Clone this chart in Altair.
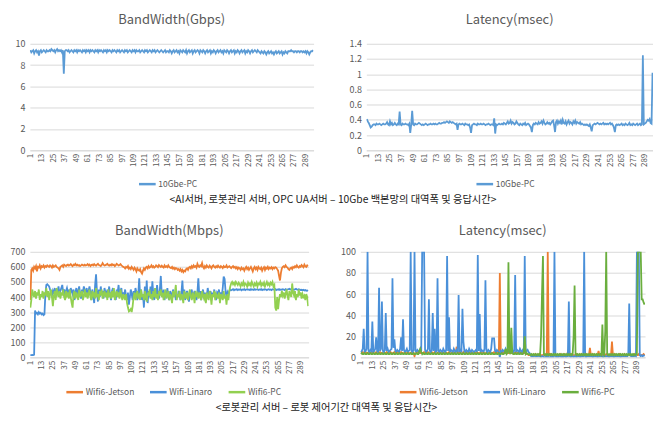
import altair as alt
import pandas as pd

N = 297
tick_vals = list(range(1, 290, 12))

# ---------- Top-left: 10Gbe bandwidth (Gbps) ----------
bw_10gbe_pc = [
    9.4, 9.2, 9.3, 9.4, 9.1, 9.3, 9.4, 9.2, 9.3, 8.9, 9.3, 9.4, 9.2, 9.3, 9.4, 9.3, 9.2, 9.4, 9.3, 9.3,
    9.4, 9.3, 9.5, 9.4, 9.3, 9.4, 9.2, 9.4, 9.5, 9.3, 9.4, 9.3, 9.4, 9.2, 9.4, 7.2, 9.3, 9.4, 9.4, 9.3,
    9.4, 9.2, 9.3, 9.4, 9.3, 9.2, 9.4, 9.3, 9.4, 9.2, 9.4, 9.3, 9.4, 9.3, 9.2, 9.4, 9.3, 9.4, 9.2, 9.4,
    9.3, 9.4, 9.2, 9.4, 9.3, 9.4, 9.3, 9.2, 9.4, 9.3, 9.4, 9.2, 9.4, 9.3, 9.4, 9.3, 9.2, 9.4, 9.3, 9.4,
    9.2, 9.4, 9.3, 9.4, 9.3, 9.2, 9.4, 9.3, 9.4, 9.3, 9.2, 9.4, 9.3, 9.4, 9.2, 9.3, 9.4, 9.3, 9.2, 9.4,
    9.3, 9.4, 9.2, 9.3, 9.4, 9.3, 9.2, 9.4, 9.3, 9.4, 9.2, 9.4, 9.3, 9.3, 9.4, 9.2, 9.3, 9.4, 9.3, 9.2,
    9.4, 9.3, 9.4, 9.2, 9.3, 9.4, 9.3, 9.2, 9.4, 9.3, 9.4, 9.2, 9.3, 9.4, 9.3, 9.2, 9.3, 9.4, 9.3, 9.2,
    9.3, 9.4, 9.2, 9.3, 9.3, 9.2, 9.4, 9.3, 9.1, 9.3, 9.4, 9.2, 9.3, 9.4, 9.2, 9.3, 9.1, 9.4, 9.3, 9.2,
    9.4, 9.3, 9.2, 9.4, 9.1, 9.3, 9.4, 9.2, 9.3, 9.4, 9.1, 9.3, 9.4, 9.2, 9.3, 9.4, 9.3, 9.1, 9.4, 9.3,
    9.2, 9.4, 9.3, 9.1, 9.3, 9.4, 9.2, 9.3, 9.4, 9.1, 9.3, 9.2, 9.4, 9.3, 9.1, 9.3, 9.4, 9.2, 9.3, 9.4,
    9.2, 9.3, 9.1, 9.4, 9.3, 9.2, 9.4, 9.3, 9.1, 9.3, 9.4, 9.2, 9.3, 9.4, 9.1, 9.3, 9.2, 9.4, 9.3, 9.1,
    9.3, 9.4, 9.2, 9.3, 9.4, 9.1, 9.3, 9.2, 9.4, 9.3, 9.1, 9.3, 9.4, 9.2, 9.3, 9.4, 9.3, 9.2, 9.4, 9.3,
    9.2, 9.1, 9.3, 9.2, 9.1, 9.3, 9.2, 9.0, 9.2, 9.3, 9.1, 9.2, 9.3, 9.1, 9.2, 9.0, 9.2, 9.3, 9.1, 9.2,
    9.3, 9.1, 9.2, 9.3, 9.0, 9.2, 9.1, 9.3, 9.2, 9.1, 9.3, 9.3, 9.3, 9.4, 9.3, 9.3, 9.2, 9.3, 9.3, 9.2,
    9.3, 9.3, 9.2, 9.3, 9.3, 9.2, 9.3, 9.2, 9.3, 9.1, 9.3, 9.2, 9.0, 9.2, 9.3, 9.3, 9.4,
]

# ---------- Top-right: 10Gbe latency (msec) ----------
lat_10gbe_pc = [
    0.41, 0.38, 0.36, 0.33, 0.30, 0.31, 0.33, 0.34, 0.34, 0.33, 0.35, 0.34, 0.34, 0.35, 0.34, 0.33, 0.34, 0.35, 0.34, 0.34,
    0.35, 0.37, 0.34, 0.33, 0.38, 0.34, 0.36, 0.33, 0.34, 0.36, 0.34, 0.33, 0.35, 0.34, 0.51, 0.34, 0.33, 0.35, 0.34, 0.34,
    0.35, 0.34, 0.34, 0.33, 0.35, 0.23, 0.34, 0.52, 0.34, 0.33, 0.35, 0.34, 0.34, 0.35, 0.36, 0.35, 0.34, 0.33, 0.34, 0.33,
    0.34, 0.35, 0.34, 0.33, 0.34, 0.34, 0.35, 0.34, 0.34, 0.35, 0.34, 0.35, 0.34, 0.34, 0.35, 0.36, 0.35, 0.35, 0.36, 0.36,
    0.37, 0.36, 0.37, 0.38, 0.37, 0.36, 0.38, 0.37, 0.36, 0.37, 0.36, 0.35, 0.34, 0.35, 0.27, 0.34, 0.35, 0.34, 0.34, 0.35,
    0.34, 0.33, 0.35, 0.34, 0.34, 0.33, 0.34, 0.30, 0.23, 0.33, 0.34, 0.35, 0.34, 0.34, 0.33, 0.35, 0.34, 0.34, 0.35, 0.34,
    0.34, 0.35, 0.34, 0.33, 0.34, 0.34, 0.35, 0.34, 0.33, 0.34, 0.34, 0.33, 0.42, 0.22, 0.34, 0.33, 0.34, 0.35, 0.34, 0.34,
    0.35, 0.34, 0.36, 0.35, 0.34, 0.36, 0.38, 0.35, 0.36, 0.39, 0.35, 0.37, 0.36, 0.34, 0.35, 0.38, 0.36, 0.34, 0.33, 0.35,
    0.34, 0.33, 0.35, 0.34, 0.36, 0.33, 0.34, 0.35, 0.34, 0.32, 0.30, 0.24, 0.33, 0.35, 0.34, 0.36, 0.35, 0.34, 0.37, 0.35,
    0.36, 0.38, 0.35, 0.39, 0.36, 0.34, 0.35, 0.37, 0.35, 0.36, 0.34, 0.36, 0.38, 0.39, 0.33, 0.24, 0.37, 0.39, 0.35, 0.38,
    0.36, 0.39, 0.34, 0.40, 0.36, 0.35, 0.38, 0.34, 0.37, 0.39, 0.35, 0.37, 0.36, 0.34, 0.38, 0.36, 0.39, 0.35, 0.37, 0.36,
    0.35, 0.37, 0.34, 0.35, 0.34, 0.33, 0.34, 0.33, 0.34, 0.33, 0.32, 0.34, 0.30, 0.25, 0.33, 0.34, 0.35, 0.34, 0.35, 0.36,
    0.35, 0.34, 0.35, 0.34, 0.35, 0.36, 0.34, 0.35, 0.34, 0.35, 0.34, 0.35, 0.36, 0.34, 0.35, 0.33, 0.30, 0.24, 0.33, 0.34,
    0.33, 0.34, 0.33, 0.34, 0.35, 0.33, 0.34, 0.33, 0.35, 0.34, 0.33, 0.34, 0.36, 0.33, 0.34, 0.33, 0.35, 0.34, 0.33, 0.34,
    0.35, 0.33, 0.34, 0.35, 0.33, 0.34, 1.25, 0.34, 0.35, 0.36, 0.38, 0.40, 0.39, 0.41, 0.36, 0.35, 1.02,
]

# ---------- Bottom-left: WiFi bandwidth (Mbps) ----------
bw_jetson = [
    380, 580, 590, 575, 600, 590, 605, 570, 600, 595, 610, 590, 605, 600, 610, 595, 605, 600, 610, 605,
    600, 610, 605, 595, 610, 600, 605, 610, 600, 595, 590, 580, 600, 605, 610, 600, 615, 610, 605, 612,
    615, 608, 612, 618, 610, 605, 615, 612, 620, 610, 615, 608, 612, 605, 610, 615, 612, 608, 615, 610,
    612, 618, 610, 615, 605, 612, 615, 610, 618, 612, 608, 615, 620, 612, 610, 605, 612, 625, 615, 610,
    612, 615, 620, 612, 608, 615, 610, 618, 612, 615, 605, 612, 620, 615, 610, 612, 618, 610, 605, 600,
    598, 590, 600, 595, 605, 588, 595, 585, 600, 590, 580, 595, 585, 570, 590, 580, 575, 585, 565, 555,
    575, 590, 580, 595, 600, 590, 605, 595, 600, 610, 598, 605, 595, 600, 610, 605, 598, 612, 605, 600,
    608, 600, 595, 610, 600, 605, 598, 610, 600, 595, 592, 600, 588, 595, 585, 592, 590, 580, 585, 575,
    585, 570, 580, 565, 575, 570, 585, 590, 580, 595, 600, 590, 605, 595, 610, 600, 605, 595, 620, 605,
    600, 610, 605, 625, 600, 590, 605, 595, 610, 600, 595, 608, 600, 590, 605, 610, 600, 595, 605, 598,
    608, 600, 595, 605, 600, 592, 605, 598, 600, 610, 595, 600, 605, 598, 592, 600, 605, 595, 600, 590,
    598, 585, 595, 590, 580, 595, 585, 590, 575, 590, 600, 585, 595, 580, 590, 600, 585, 570, 590, 600,
    585, 595, 580, 600, 590, 585, 595, 575, 590, 598, 580, 595, 588, 600, 585, 595, 590, 598, 585, 595,
    590, 598, 595, 585, 575, 540, 510, 560, 590, 600, 605, 598, 610, 600, 595, 585, 580, 590, 595, 585,
    600, 595, 605, 598, 610, 600, 595, 605, 600, 612, 605, 598, 615, 605, 600, 610, 605,
]
bw_linaro = [
    15, 15, 16, 15, 18, 310, 290, 295, 285, 300, 290, 295, 285, 290, 280, 285, 420, 480, 485, 478,
    470, 450, 430, 410, 440, 420, 460, 400, 450, 430, 470, 420, 440, 460, 480, 430, 450, 410, 440, 460,
    430, 450, 400, 460, 440, 420, 450, 380, 430, 460, 410, 440, 470, 420, 390, 450, 430, 470, 440, 420,
    460, 400, 440, 470, 430, 380, 450, 410, 360, 480, 550, 430, 370, 450, 400, 470, 420, 440, 390, 460,
    430, 400, 450, 420, 470, 410, 380, 440, 460, 400, 420, 380, 450, 430, 480, 410, 440, 460, 390, 430,
    410, 450, 400, 380, 430, 350, 400, 450, 420, 380, 440, 400, 460, 430, 380, 420, 525, 400, 450, 380,
    420, 330, 470, 380, 510, 360, 440, 400, 470, 390, 505, 420, 380, 460, 400, 480, 420, 390, 450, 540,
    420, 400, 450, 380, 430, 410, 460, 400, 380, 440, 420, 390, 450, 410, 430, 380, 420, 400, 440, 410,
    380, 430, 510, 400, 450, 380, 420, 440, 400, 370, 430, 410, 450, 390, 420, 440, 400, 380, 430, 525,
    410, 440, 380, 420, 450, 400, 430, 370, 410, 460, 420, 400, 440, 380, 430, 410, 450, 400, 380, 430,
    420, 450, 390, 430, 410, 460, 535, 520, 440, 400, 430, 410, 440, 450, 445, 448, 452, 445, 450, 448,
    452, 446, 450, 448, 452, 445, 450, 448, 452, 446, 450, 452, 448, 450, 446, 452, 448, 450, 447, 452,
    448, 450, 452, 447, 450, 448, 452, 446, 450, 448, 452, 450, 446, 450, 452, 448, 450, 446, 452, 450,
    448, 452, 446, 450, 448, 452, 447, 450, 448, 452, 450, 446, 452, 448, 450, 452, 455, 450, 452, 455,
    450, 448, 452, 455, 450, 448, 452, 450, 446, 448, 445, 448, 444, 446, 442, 444, 440,
]
bw_pc = [
    330, 380, 450, 420, 400, 440, 390, 430, 410, 450, 380, 420, 400, 440, 390, 430, 410, 460, 400, 440,
    380, 420, 450, 400, 340, 410, 440, 380, 460, 420, 400, 440, 390, 430, 410, 450, 400, 380, 440, 410,
    430, 390, 450, 400, 360, 330, 420, 440, 390, 430, 410, 380, 450, 400, 420, 440, 380, 410, 450, 400,
    430, 390, 420, 450, 400, 380, 440, 410, 430, 390, 460, 400, 420, 380, 440, 410, 450, 390, 420, 440,
    400, 430, 380, 450, 410, 420, 390, 440, 400, 460, 380, 420, 440, 400, 430, 390, 450, 410, 380, 420,
    400, 380, 420, 360, 330, 305, 310, 320, 300, 340, 400, 430, 380, 420, 440, 390, 410, 380, 450, 400,
    420, 380, 440, 400, 370, 430, 410, 450, 390, 420, 380, 440, 400, 460, 390, 420, 380, 440, 410, 450,
    400, 430, 380, 420, 450, 390, 410, 440, 380, 420, 400, 360, 440, 400, 430, 480, 380, 420, 400, 440,
    380, 420, 400, 360, 440, 410, 390, 430, 380, 420, 450, 400, 380, 430, 410, 360, 440, 400, 420, 390,
    430, 400, 380, 440, 410, 390, 420, 360, 430, 400, 380, 440, 410, 350, 420, 400, 440, 380, 420, 410,
    390, 430, 360, 420, 400, 380, 440, 390, 410, 350, 420, 380, 440, 470, 490, 500, 485, 495, 480, 500,
    490, 480, 495, 485, 470, 490, 480, 500, 475, 490, 485, 470, 495, 480, 490, 475, 500, 485, 470, 490,
    480, 495, 470, 490, 485, 500, 475, 490, 480, 495, 470, 485, 500, 480, 490, 475, 495, 485, 500, 470,
    480, 330, 310, 400, 320, 380, 420, 400, 440, 410, 430, 390, 420, 450, 410, 380, 440, 420, 400, 490,
    430, 410, 440, 380, 420, 400, 450, 410, 430, 390, 420, 400, 410, 380, 420, 400, 340,
]

# ---------- Bottom-right: WiFi latency (msec) ----------
lat_jetson = [
    4, 4, 5, 4, 4, 5, 4, 4, 4, 5, 4, 4, 5, 4, 4, 4, 5, 4, 4, 4,
    5, 4, 4, 4, 5, 4, 4, 5, 4, 4, 4, 5, 4, 4, 4, 5, 4, 4, 5, 4,
    4, 4, 5, 4, 4, 4, 5, 4, 4, 5, 4, 4, 4, 5, 4, 4, 1, 4, 4, 5,
    4, 4, 4, 5, 4, 4, 5, 4, 4, 4, 5, 4, 4, 4, 5, 4, 4, 5, 4, 4,
    4, 5, 4, 4, 4, 5, 4, 4, 5, 4, 4, 4, 5, 4, 4, 4, 5, 4, 4, 5,
    10, 4, 4, 5, 4, 4, 4, 5, 4, 4, 5, 4, 4, 4, 5, 4, 4, 4, 5, 4,
    4, 5, 4, 4, 4, 5, 4, 4, 5, 4, 4, 4, 5, 4, 4, 5, 4, 4, 4, 5,
    4, 4, 5, 4, 4, 80, 4, 4, 5, 4, 4, 4, 5, 4, 4, 5, 4, 4, 4, 5,
    4, 4, 5, 4, 4, 4, 5, 4, 4, 5, 4, 4, 4, 3, 3, 2, 2, 2, 2, 2,
    2, 2, 3, 2, 2, 2, 3, 2, 2, 2, 2, 3, 2, 2, 2, 100, 2, 2, 3, 2,
    2, 2, 2, 3, 2, 2, 2, 2, 3, 2, 2, 2, 3, 2, 2, 2, 5, 2, 2, 2,
    3, 2, 2, 2, 2, 3, 2, 2, 2, 2, 3, 2, 2, 2, 2, 3, 2, 2, 2, 9,
    2, 2, 3, 2, 2, 2, 2, 2, 6, 2, 2, 3, 2, 2, 2, 2, 3, 2, 2, 2,
    2, 2, 15, 2, 2, 3, 2, 2, 2, 2, 3, 2, 2, 2, 2, 3, 2, 2, 2, 2,
    3, 2, 2, 2, 2, 3, 2, 2, 2, 2, 3, 2, 2, 2, 2, 3, 2,
]
lat_linaro = [
    5, 6, 8, 27, 5, 6, 8, 100, 6, 5, 7, 6, 34, 5, 6, 8, 19, 6, 5, 66,
    6, 8, 53, 6, 5, 7, 42, 6, 8, 5, 6, 7, 8, 75, 9, 17, 6, 5, 7, 6,
    5, 8, 19, 6, 36, 7, 5, 6, 8, 5, 6, 7, 100, 6, 5, 7, 100, 6, 5, 7,
    6, 5, 8, 6, 100, 100, 100, 7, 5, 6, 8, 55, 6, 5, 7, 42, 6, 27, 5, 6,
    75, 6, 5, 7, 6, 5, 8, 6, 5, 7, 96, 6, 38, 5, 7, 6, 5, 8, 6, 5,
    7, 6, 59, 5, 7, 6, 46, 15, 6, 5, 7, 6, 5, 8, 6, 5, 7, 6, 5, 6,
    7, 5, 97, 6, 41, 5, 7, 6, 5, 8, 73, 6, 5, 7, 6, 5, 8, 18, 18, 18,
    6, 5, 7, 6, 5, 0, 6, 5, 7, 6, 5, 8, 6, 5, 7, 6, 5, 6, 7, 5,
    6, 78, 5, 7, 6, 5, 8, 6, 5, 7, 6, 96, 5, 6, 7, 5, 4, 2, 1, 1,
    1, 2, 1, 1, 1, 2, 1, 1, 0, 1, 1, 0, 0, 1, 0, 1, 0, 0, 1, 0,
    1, 0, 100, 1, 0, 1, 0, 1, 1, 0, 1, 0, 1, 1, 0, 1, 1, 53, 1, 0,
    1, 1, 0, 1, 1, 0, 1, 1, 1, 0, 1, 1, 1, 100, 1, 0, 1, 1, 1, 1,
    1, 1, 0, 1, 1, 1, 1, 0, 1, 1, 1, 1, 1, 0, 1, 1, 1, 1, 1, 0,
    1, 1, 1, 1, 0, 1, 1, 1, 1, 1, 1, 0, 1, 1, 1, 1, 1, 1, 1, 2,
    51, 2, 1, 1, 1, 1, 2, 1, 100, 100, 100, 2, 1, 2, 1, 2, 1,
]
lat_pc = [
    3, 4, 3, 3, 4, 3, 3, 4, 3, 3, 4, 3, 3, 4, 3, 3, 4, 3, 3, 4,
    3, 3, 4, 3, 3, 4, 3, 3, 4, 3, 3, 4, 3, 3, 4, 3, 3, 4, 3, 3,
    4, 3, 3, 4, 3, 3, 4, 3, 3, 4, 3, 3, 4, 3, 3, 4, 3, 3, 4, 3,
    3, 6, 8, 5, 3, 4, 3, 3, 4, 3, 3, 4, 3, 3, 4, 3, 3, 4, 3, 3,
    4, 3, 3, 4, 3, 3, 4, 3, 3, 4, 3, 3, 4, 3, 3, 4, 3, 3, 4, 3,
    3, 4, 3, 3, 4, 3, 3, 4, 3, 3, 4, 3, 3, 4, 3, 3, 4, 3, 3, 4,
    3, 3, 4, 3, 3, 4, 3, 3, 4, 3, 3, 4, 3, 3, 4, 3, 3, 4, 3, 3,
    3, 4, 3, 3, 4, 3, 3, 4, 3, 3, 4, 8, 3, 4, 90, 5, 3, 28, 4, 3,
    3, 4, 3, 3, 4, 3, 3, 4, 3, 3, 5, 20, 3, 4, 3, 3, 3, 2, 3, 2,
    3, 2, 3, 2, 3, 2, 3, 2, 20, 60, 96, 3, 2, 3, 2, 3, 2, 3, 2, 3,
    2, 3, 2, 3, 2, 3, 2, 3, 2, 3, 2, 3, 2, 3, 2, 3, 2, 3, 2, 3,
    2, 3, 20, 68, 3, 2, 3, 2, 3, 2, 3, 2, 3, 2, 3, 2, 3, 2, 3, 2,
    3, 2, 3, 2, 3, 2, 3, 2, 3, 2, 3, 2, 31, 3, 2, 25, 100, 3, 2, 3,
    2, 3, 2, 3, 2, 3, 2, 3, 2, 3, 2, 3, 2, 3, 2, 3, 2, 3, 2, 3,
    2, 3, 2, 3, 2, 3, 2, 3, 3, 100, 100, 100, 100, 55, 55, 52, 50,
]

titles = ["BandWidth(Gbps)", "Latency(msec)", "BandWidth(Mbps)", "Latency(msec)"]
captions = [
    "<AI서버, 로봇관리 서버, OPC UA서버 – 10Gbe 백본망의 대역폭 및 응답시간>",
    "<로봇관리 서버 – 로봇 제어기간 대역폭 및 응답시간>",
]
top_series = ["10Gbe-PC"]
wifi_series = ["Wifi6-Jetson", "Wifi-Linaro", "Wifi6-PC"]

FONT = "Noto Sans CJK KR"
GRAY = "#595959"
GRID = "#D9D9D9"


def long_df(names, lists):
    rows = []
    for name, vals in zip(names, lists):
        for i, v in enumerate(vals):
            rows.append({"idx": i + 1, "value": v, "series": name})
    return pd.DataFrame(rows)


def panel(df, names, colors, title, ydom, yvals, yfmt, width, height, extent, lx, ly, toff):
    x = alt.X("idx:Q",
              scale=alt.Scale(domain=[0.5, N + 0.5], nice=False, zero=False),
              axis=alt.Axis(values=tick_vals, labelAngle=270, grid=False, ticks=False,
                            domainColor=GRID, labelFontSize=8, labelColor=GRAY,
                            labelFont=FONT, labelPadding=3, labelFlush=False,
                            labelOverlap=False, title=None))
    y = alt.Y("value:Q",
              scale=alt.Scale(domain=ydom, nice=False, zero=False),
              axis=alt.Axis(values=yvals, format=yfmt, grid=True, gridColor=GRID,
                            domain=False, ticks=False, labelFontSize=9,
                            labelColor=GRAY, labelFont=FONT, labelPadding=5,
                            minExtent=extent, maxExtent=extent, title=None))
    color = alt.Color("series:N",
                      scale=alt.Scale(domain=names, range=colors),
                      legend=alt.Legend(orient="none", legendX=lx, legendY=ly,
                                        direction="horizontal", title=None,
                                        symbolType="stroke", symbolStrokeWidth=2.5,
                                        symbolSize=280, labelFontSize=8.5,
                                        labelColor=GRAY, labelFont=FONT,
                                        labelOffset=1, columnPadding=10))
    layers = []
    for name in names:
        layers.append(
            alt.Chart(df).transform_filter(alt.datum.series == name)
            .mark_line(strokeWidth=1.8, clip=True)
            .encode(x=x, y=y, color=color)
        )
    return alt.layer(*layers).properties(
        width=width, height=height,
        title=alt.TitleParams(title, fontSize=13, font=FONT, color=GRAY,
                              fontWeight="normal", offset=toff),
    )


df_tl = long_df(top_series, [bw_10gbe_pc])
df_tr = long_df(top_series, [lat_10gbe_pc])
df_bl = long_df(wifi_series, [bw_jetson, bw_linaro, bw_pc])
df_br = long_df(wifi_series, [lat_jetson, lat_linaro, lat_pc])

tl = panel(df_tl, top_series, ["#5B9BD5"], titles[0], [0, 10], [0, 2, 4, 6, 8, 10], "d",
           285, 107, 17, 108, 131, 13)
tr = panel(df_tr, top_series, ["#5B9BD5"], titles[1], [0, 1.4],
           [0, 0.2, 0.4, 0.6, 0.8, 1.0, 1.2, 1.4], "~g", 288, 107, 17, 109, 131, 13)
bl = panel(df_bl, wifi_series, ["#ED7D31", "#4A90D9", "#92D050"], titles[2], [0, 700],
           [0, 100, 200, 300, 400, 500, 600, 700], "d", 280, 106, 22, 35, 131, 10)
br = panel(df_br, wifi_series, ["#ED7D31", "#4A90D9", "#6AAE3E"], titles[3], [0, 100],
           [0, 20, 40, 60, 80, 100], "d", 286, 106, 22, 38, 131, 10)

cap_style = dict(orient="bottom", anchor="middle", fontSize=10.3, font=FONT,
                 color="#1a1a1a", fontWeight="normal", offset=6)

row1 = alt.hconcat(tl, tr, spacing=35).resolve_scale(color="independent").properties(
    title=alt.TitleParams(captions[0], **cap_style))
row2 = alt.hconcat(bl, br, spacing=30).resolve_scale(color="independent").properties(
    title=alt.TitleParams(captions[1], **cap_style))

chart = alt.vconcat(row1, row2, spacing=19).resolve_scale(color="independent").properties(
    padding={"left": 0, "top": 5, "right": 0, "bottom": 0},
    background="white",
).configure_view(stroke=None)

chart.save("out.html", embed_options={"renderer": "svg", "actions": False})
